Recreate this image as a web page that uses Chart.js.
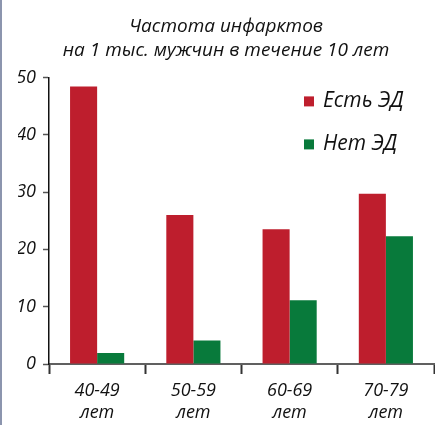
<!DOCTYPE html>
<html lang="ru">
<head>
<meta charset="utf-8">
<title>Частота инфарктов</title>
<script src="https://cdn.jsdelivr.net/npm/chart.js@4/dist/chart.umd.min.js"></script>
<style>
  html, body { margin: 0; padding: 0; background: #ffffff; }
  #wrap { position: relative; width: 435px; height: 425px; }
  #edge { position: absolute; left: 0; top: 0; width: 2px; height: 425px; background: #8c95ae; }
  canvas { display: block; }
</style>
</head>
<body>
<div id="wrap">
  <canvas id="chart" width="435" height="425"></canvas>
  <div id="edge"></div>
</div>
<script>
// Age groups (two-line tick labels)
const categories = [["40-49", "лет"], ["50-59", "лет"], ["60-69", "лет"], ["70-79", "лет"]];
// Heart attacks per 1000 men over 10 years
const withED = [48.4, 26.0, 23.5, 29.7];
const withoutED = [1.9, 4.1, 11.1, 22.3];
const seriesLabels = ["Есть ЭД", "Нет ЭД"];
const titleLines = ["Частота инфарктов", "на 1 тыс. мужчин в течение 10 лет"];

const RED = "#be1e2d";
const GREEN = "#087a3b";
const INK = "#111111";
const FONT = "'Open Sans', 'Noto Sans', sans-serif";

// Legend drawn inside the plot area, top right
const insideLegend = {
  id: "insideLegend",
  afterDraw(chart) {
    const ctx = chart.ctx;
    const x0 = chart.chartArea.right - 130;
    const rows = [chart.chartArea.top + 24, chart.chartArea.top + 67];
    ctx.save();
    chart.data.datasets.forEach((ds, i) => {
      const cy = rows[i];
      ctx.fillStyle = ds.backgroundColor;
      ctx.fillRect(x0, cy - 5, 10, 10);
      ctx.fillStyle = INK;
      ctx.font = "italic 21px " + FONT;
      ctx.textBaseline = "middle";
      ctx.textAlign = "left";
      ctx.fillText(ds.label, x0 + 19, cy);
    });
    ctx.restore();
  }
};

new Chart(document.getElementById("chart"), {
  type: "bar",
  data: {
    labels: categories,
    datasets: [
      { label: seriesLabels[0], data: withED, backgroundColor: RED },
      { label: seriesLabels[1], data: withoutED, backgroundColor: GREEN }
    ]
  },
  options: {
    responsive: false,
    devicePixelRatio: 1,
    animation: false,
    layout: { padding: { top: 14, right: 1, left: 18, bottom: 0 } },
    datasets: { bar: { categoryPercentage: 0.5625, barPercentage: 1.0 } },
    plugins: {
      legend: { display: false },
      tooltip: { enabled: false },
      title: {
        display: true,
        text: titleLines,
        color: INK,
        font: { family: FONT, size: 19, style: "italic", weight: "normal", lineHeight: 1.3 },
        padding: { top: 0, bottom: 14 }
      }
    },
    scales: {
      x: {
        offset: true,
        border: { color: "#606060", width: 2 },
        grid: {
          offset: true,
          drawOnChartArea: false,
          tickLength: 10,
          tickWidth: 2,
          color: (c) => (c.index === categories.length ? "rgba(0,0,0,0)" : "#333333")
        },
        ticks: {
          color: INK,
          padding: 6,
          font: { family: FONT, size: 18, style: "italic", lineHeight: 1.2 }
        },
        afterFit(scale) { scale.height = 61; }
      },
      y: {
        min: 0,
        max: 50,
        border: { color: "#111111", width: 1.5 },
        grid: { drawOnChartArea: false, tickLength: 6, color: "#555555", tickWidth: 1.5 },
        ticks: {
          stepSize: 10,
          color: INK,
          padding: 7,
          font: { family: FONT, size: 18, style: "italic" }
        },
        afterFit(scale) { scale.width = 31; }
      }
    }
  },
  plugins: [insideLegend]
});
</script>
</body>
</html>
